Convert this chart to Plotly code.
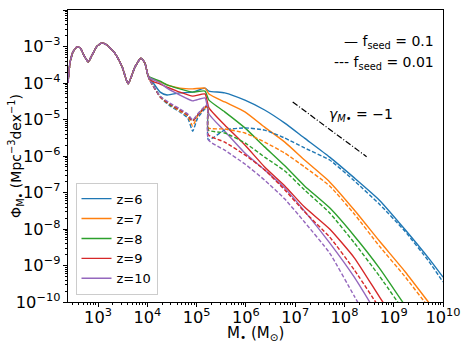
import numpy as np
import plotly.graph_objects as go

# shared low-mass part (log10 M, log10 Phi), identical for every curve
logm_common = [2.39, 2.43, 2.49, 2.57, 2.64, 2.72, 2.80, 2.88, 2.98, 3.08,
               3.18, 3.34, 3.49, 3.61, 3.75, 3.87, 3.95, 4.01]
logphi_common = [-4.00, -3.45, -3.15, -3.01, -3.04, -3.26, -3.42, -3.23, -2.99, -2.90,
                 -2.96, -3.18, -3.56, -4.02, -3.56, -3.32, -3.45, -3.78]

# f_seed = 0.1 (solid)
logm_solid = [4.05, 4.26, 4.40, 4.66, 4.92, 5.17, 5.25, 5.57, 5.98, 6.38,
              6.79, 7.19, 7.70, 8.20, 8.71, 9.22, 9.72, 10.0]
solid_z6 = [-3.86, -4.25, -4.33, -4.27, -4.25, -4.14, -4.22, -4.27, -4.47, -4.74,
            -5.10, -5.51, -6.03, -6.60, -7.21, -8.00, -8.82, -9.32]
solid_z7 = [-3.86, -3.97, -4.05, -4.14, -4.16, -4.14, -4.30, -4.52, -4.79, -5.21,
            -5.62, -6.11, -6.71, -7.48, -8.33, -9.15, -10.03, -10.5]
solid_z8 = [-3.84, -3.95, -4.05, -4.16, -4.25, -4.22, -4.47, -4.79, -5.23, -5.75,
            -6.27, -6.82, -7.42, -8.19, -9.07, -10.08]
solid_z9 = [-3.92, -4.03, -4.11, -4.25, -4.36, -4.30, -4.68, -5.15, -5.70, -6.30,
            -6.82, -7.40, -8.00, -8.79, -9.86, -10.9]
solid_z10 = [-3.86, -4.00, -4.14, -4.33, -4.49, -4.41, -4.85, -5.32, -5.92, -6.38,
             -6.88, -7.51, -8.38, -9.32, -10.44]

# f_seed = 0.01 (dashed)
logm_dashed = [4.05, 4.26, 4.46, 4.66, 4.82, 4.92, 5.02, 5.17, 5.22, 5.24,
               5.57, 5.98, 6.38, 6.79, 7.19, 7.70, 8.20, 8.71, 9.22, 9.72, 10.0]
dashed_z6 = [-3.92, -4.38, -4.63, -4.79, -4.96, -5.32, -4.96, -4.71, -4.68, -5.56,
             -5.29, -5.23, -5.29, -5.51, -5.78, -6.11, -6.68, -7.32, -8.05, -8.90, -9.45]
dashed_z7 = [-3.92, -4.38, -4.60, -4.77, -4.90, -5.18, -4.90, -4.68, -4.66, -5.23,
             -5.26, -5.37, -5.62, -5.92, -6.30, -6.82, -7.59, -8.47, -9.29, -10.16, -10.6]
dashed_z8 = [-3.92, -4.36, -4.60, -4.74, -4.88, -5.04, -4.88, -4.66, -4.63, -5.29,
             -5.37, -5.64, -6.03, -6.41, -6.93, -7.56, -8.38, -9.29, -10.27]
dashed_z9 = [-3.92, -4.38, -4.58, -4.74, -4.88, -5.04, -4.88, -4.66, -4.63, -5.42,
             -5.62, -5.97, -6.38, -6.93, -7.53, -8.22, -9.12, -10.16]
dashed_z10 = [-3.92, -4.36, -4.55, -4.71, -4.85, -5.01, -4.85, -4.63, -4.60, -5.56,
              -5.84, -6.22, -6.66, -7.18, -7.81, -8.66, -9.84, -11.04]

labels = ["z=6", "z=7", "z=8", "z=9", "z=10"]
colors = ["#1f77b4", "#ff7f0e", "#2ca02c", "#d62728", "#9467bd"]
solids = [solid_z6, solid_z7, solid_z8, solid_z9, solid_z10]
dasheds = [dashed_z6, dashed_z7, dashed_z8, dashed_z9, dashed_z10]

# gamma = -1 guide
guide_logm = [6.95, 8.45]
guide_logphi = [-4.52, -6.02]

fig = go.Figure()

for lab, col, s in zip(labels, colors, solids):
    lx = logm_common + logm_solid[:len(s)]
    ly = logphi_common + s
    fig.add_trace(go.Scatter(x=10 ** np.array(lx), y=10 ** np.array(ly), mode="lines",
                             name=lab,
                             line=dict(color=col, width=1.4, shape="spline", smoothing=0.5)))

for lab, col, d in zip(labels, colors, dasheds):
    lx = logm_common + logm_dashed[:len(d)]
    ly = logphi_common + d
    fig.add_trace(go.Scatter(x=10 ** np.array(lx), y=10 ** np.array(ly), mode="lines",
                             showlegend=False,
                             line=dict(color=col, width=1.4, dash="4px,2px",
                                       shape="spline", smoothing=0.5)))

fig.add_trace(go.Scatter(x=10 ** np.array(guide_logm), y=10 ** np.array(guide_logphi),
                         mode="lines", showlegend=False,
                         line=dict(color="black", width=1.2, dash="6px,2px,1px,2px")))

axis_common = dict(
    type="log", dtick=1, exponentformat="power", showgrid=False, zeroline=False,
    showline=True, linecolor="black", linewidth=1, mirror=True,
    ticks="outside", ticklen=4, tickcolor="black", automargin=False,
    minor=dict(ticks="outside", ticklen=2, tickcolor="black", dtick="D1", showgrid=False),
    tickfont=dict(size=13, color="black"),
)

fig.update_layout(
    width=463, height=343,
    margin=dict(l=68, r=20, t=10, b=41, autoexpand=False),
    plot_bgcolor="white", paper_bgcolor="white",
    font=dict(family="DejaVu Sans", size=14, color="black"),
    xaxis=dict(axis_common, range=[2.39, 10], ticklabelstandoff=-3),
    yaxis=dict(axis_common, range=[-10, -2]),
    legend=dict(x=0.02, y=0.025, xanchor="left", yanchor="bottom",
                bgcolor="rgba(255,255,255,0.8)", bordercolor="#cccccc", borderwidth=1,
                font=dict(size=13), itemwidth=30, tracegroupgap=0),
    showlegend=True,
)

# axis titles
fig.add_annotation(xref="paper", yref="paper", x=0.5, y=-0.108, xanchor="center", yanchor="middle",
                   text="M<sub>•</sub> (M<sub>⊙</sub>)", showarrow=False, font=dict(size=15))
fig.add_annotation(xref="paper", yref="paper", x=-0.139, y=0.5, xanchor="center", yanchor="middle",
                   textangle=-90, text="Φ<sub>M•</sub> (Mpc<sup>−3</sup>dex<sup>−1</sup>)",
                   showarrow=False, font=dict(size=14))

fig.add_annotation(xref="paper", yref="paper", x=0.98, y=0.89, xanchor="right", yanchor="middle",
                   text="— f<sub>seed</sub> = 0.1", showarrow=False, font=dict(size=14))
fig.add_annotation(xref="paper", yref="paper", x=0.98, y=0.82, xanchor="right", yanchor="middle",
                   text="--- f<sub>seed</sub> = 0.01", showarrow=False, font=dict(size=14))
fig.add_annotation(xref="paper", yref="paper", x=0.78, y=0.64, xanchor="center", yanchor="middle",
                   text="<i>γ<sub>M•</sub></i> = −1", showarrow=False, font=dict(size=14))

fig.write_html("out.html", config={"displayModeBar": False},
               post_script="document.body.style.margin='0';")
